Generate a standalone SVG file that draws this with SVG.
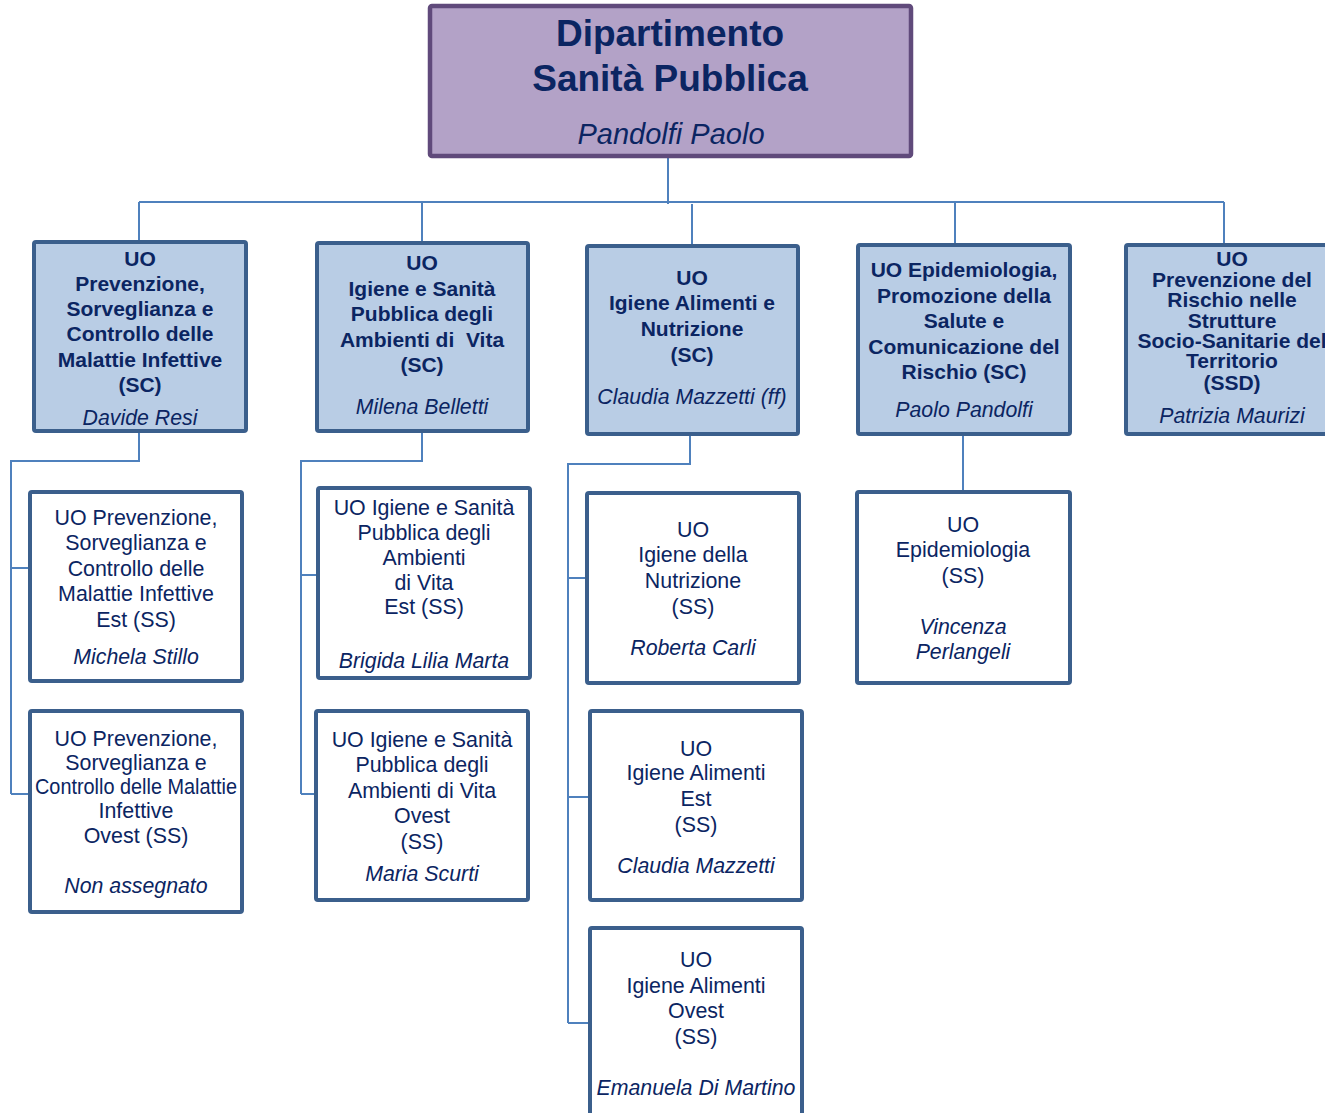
<svg xmlns="http://www.w3.org/2000/svg" width="1325" height="1113" viewBox="0 0 1325 1113">
<style>
text{font-family:"Liberation Sans",Arial,sans-serif;fill:#0b2562;text-anchor:middle}
.b{font-weight:bold;font-size:21px}
.r{font-size:21.4px}
.i{font-style:italic;font-size:21.3px}
.top{fill:#b3a2c7;stroke:#604a7b;stroke-width:4.5}
.l1{fill:#b9cde5;stroke:#3b5f8c;stroke-width:4}
.l2{fill:#ffffff;stroke:#3b5f8c;stroke-width:4}
.c{fill:none;stroke:#4f81bd;stroke-width:2}
</style>
<rect width="1325" height="1113" fill="#ffffff"/>
<g id="connectors">
<path class="c" d="M668 157V204M139 202H1224M139 202V240M422 202V241M692 204V244M955 202V243M1224 202V243"/>
<path class="c" d="M139 432V461H11V794M11 568H29M11 794H29"/>
<path class="c" d="M422 432V461H301V794M301 575H317M301 794H315"/>
<path class="c" d="M690 435V464H568V1023M568 578H586M568 797H589M568 1023H589"/>
<path class="c" d="M963 435V491"/>
</g>
<g id="dip">
<rect class="top" x="430" y="6" width="481" height="150" rx="2"/>
<text x="670" y="46" style="font-weight:bold;font-size:37px">Dipartimento</text>
<text x="670" y="91" style="font-weight:bold;font-size:37px">Sanità Pubblica</text>
<text x="671" y="144" style="font-style:italic;font-size:29px">Pandolfi Paolo</text>
</g>
<g id="uo1">
<rect class="l1" x="34" y="242" width="212" height="189" rx="2"/>
<text class="b" x="140" y="266">UO</text>
<text class="b" x="140" y="291">Prevenzione,</text>
<text class="b" x="140" y="316">Sorveglianza e</text>
<text class="b" x="140" y="341">Controllo delle</text>
<text class="b" x="140" y="367">Malattie Infettive</text>
<text class="b" x="140" y="392">(SC)</text>
<text class="i" x="140" y="425">Davide Resi</text>
</g>
<g id="uo2">
<rect class="l1" x="317" y="243" width="211" height="188" rx="2"/>
<text class="b" x="422" y="270">UO</text>
<text class="b" x="422" y="296">Igiene e Sanità</text>
<text class="b" x="422" y="321">Pubblica degli</text>
<text class="b" x="422" y="347" xml:space="preserve">Ambienti di  Vita</text>
<text class="b" x="422" y="372">(SC)</text>
<text class="i" x="422" y="414">Milena Belletti</text>
</g>
<g id="uo3">
<rect class="l1" x="587" y="246" width="211" height="188" rx="2"/>
<text class="b" x="692" y="285">UO</text>
<text class="b" x="692" y="310">Igiene Alimenti e</text>
<text class="b" x="692" y="336">Nutrizione</text>
<text class="b" x="692" y="362">(SC)</text>
<text class="i" x="692" y="404">Claudia Mazzetti (ff)</text>
</g>
<g id="uo4">
<rect class="l1" x="858" y="245" width="212" height="189" rx="2"/>
<text class="b" x="964" y="277">UO Epidemiologia,</text>
<text class="b" x="964" y="303">Promozione della</text>
<text class="b" x="964" y="328">Salute e</text>
<text class="b" x="964" y="354">Comunicazione del</text>
<text class="b" x="964" y="379">Rischio (SC)</text>
<text class="i" x="964" y="417">Paolo Pandolfi</text>
</g>
<g id="uo5">
<rect class="l1" x="1126" y="245" width="212" height="189" rx="2"/>
<text class="b" x="1232" y="266">UO</text>
<text class="b" x="1232" y="287">Prevenzione del</text>
<text class="b" x="1232" y="307">Rischio nelle</text>
<text class="b" x="1232" y="328">Strutture</text>
<text class="b" x="1232" y="348">Socio-Sanitarie del</text>
<text class="b" x="1232" y="368">Territorio</text>
<text class="b" x="1232" y="390">(SSD)</text>
<text class="i" x="1232" y="423">Patrizia Maurizi</text>
</g>
<g id="uo1a">
<rect class="l2" x="30" y="492" width="212" height="189" rx="2"/>
<text class="r" x="136" y="525">UO Prevenzione,</text>
<text class="r" x="136" y="550">Sorveglianza e</text>
<text class="r" x="136" y="576">Controllo delle</text>
<text class="r" x="136" y="601">Malattie Infettive</text>
<text class="r" x="136" y="627">Est (SS)</text>
<text class="i" x="136" y="664">Michela Stillo</text>
</g>
<g id="uo1b">
<rect class="l2" x="30" y="711" width="212" height="201" rx="2"/>
<text class="r" x="136" y="746">UO Prevenzione,</text>
<text class="r" x="136" y="770">Sorveglianza e</text>
<text class="r" x="136" y="794" textLength="202" lengthAdjust="spacingAndGlyphs">Controllo delle Malattie</text>
<text class="r" x="136" y="818">Infettive</text>
<text class="r" x="136" y="843">Ovest (SS)</text>
<text class="i" x="136" y="893">Non assegnato</text>
</g>
<g id="uo2a">
<rect class="l2" x="318" y="488" width="212" height="190" rx="2"/>
<text class="r" x="424" y="515">UO Igiene e Sanità</text>
<text class="r" x="424" y="540">Pubblica degli</text>
<text class="r" x="424" y="565">Ambienti</text>
<text class="r" x="424" y="590">di Vita</text>
<text class="r" x="424" y="614">Est (SS)</text>
<text class="i" x="424" y="668">Brigida Lilia Marta</text>
</g>
<g id="uo2b">
<rect class="l2" x="316" y="711" width="212" height="189" rx="2"/>
<text class="r" x="422" y="747">UO Igiene e Sanità</text>
<text class="r" x="422" y="772">Pubblica degli</text>
<text class="r" x="422" y="798">Ambienti di Vita</text>
<text class="r" x="422" y="823">Ovest</text>
<text class="r" x="422" y="849">(SS)</text>
<text class="i" x="422" y="881">Maria Scurti</text>
</g>
<g id="uo3a">
<rect class="l2" x="587" y="493" width="212" height="190" rx="2"/>
<text class="r" x="693" y="537">UO</text>
<text class="r" x="693" y="562">Igiene della</text>
<text class="r" x="693" y="588">Nutrizione</text>
<text class="r" x="693" y="614">(SS)</text>
<text class="i" x="693" y="655">Roberta Carli</text>
</g>
<g id="uo3b">
<rect class="l2" x="590" y="711" width="212" height="189" rx="2"/>
<text class="r" x="696" y="756">UO</text>
<text class="r" x="696" y="780">Igiene Alimenti</text>
<text class="r" x="696" y="806">Est</text>
<text class="r" x="696" y="832">(SS)</text>
<text class="i" x="696" y="873">Claudia Mazzetti</text>
</g>
<g id="uo3c">
<rect class="l2" x="590" y="928" width="212" height="200" rx="2"/>
<text class="r" x="696" y="967">UO</text>
<text class="r" x="696" y="993">Igiene Alimenti</text>
<text class="r" x="696" y="1018">Ovest</text>
<text class="r" x="696" y="1044">(SS)</text>
<text class="i" x="696" y="1095">Emanuela Di Martino</text>
</g>
<g id="uo4a">
<rect class="l2" x="857" y="492" width="213" height="191" rx="2"/>
<text class="r" x="963" y="532">UO</text>
<text class="r" x="963" y="557">Epidemiologia</text>
<text class="r" x="963" y="583">(SS)</text>
<text class="i" x="963" y="634">Vincenza</text>
<text class="i" x="963" y="659">Perlangeli</text>
</g>
</svg>
